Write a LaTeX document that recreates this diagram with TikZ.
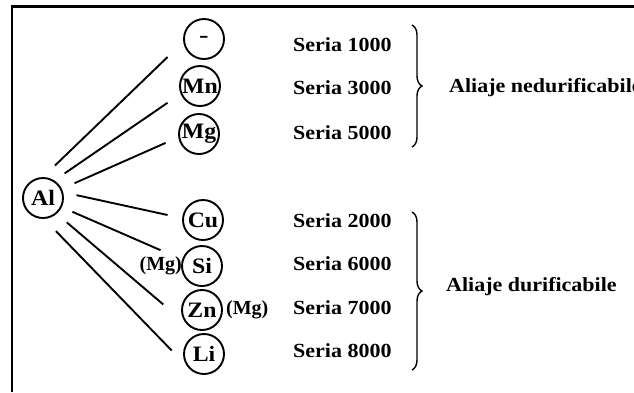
\documentclass[tikz,border=0pt]{standalone}
\usepackage{fontspec}
\setmainfont{Liberation Serif}
\usepackage{graphicx}
\usetikzlibrary{decorations.pathreplacing}
\newcommand\sx[1]{\scalebox{1.08}[1]{#1}}
\newcommand\sw[1]{\scalebox{1.1}[1]{#1}}
\begin{document}
\begin{tikzpicture}[x=1pt,y=-1pt,
  el/.style={circle, draw, line width=1.9pt, minimum size=40pt, inner sep=0pt, font=\fontsize{22}{24}\selectfont\bfseries},
  lbl/.style={inner sep=0pt, font=\fontsize{20}{22}\selectfont\bfseries},
  ser/.style={lbl, anchor=west},
  fan/.style={line width=1.9pt},
  br/.style={decorate, decoration={brace, amplitude=10pt}, line width=1.4pt}]
\useasboundingbox (0,0) rectangle (634,392);
\draw[line width=2.4pt] (12,392) -- (12,6.5) -- (634,6.5);

\node[el] (Al) at (43,198) {\sx{Al}};
\node[el] (dash) at (204,39) {\scalebox{1.3}[1]{-}};
\node[el] (Mn) at (200,86) {\sx{Mn}};
\node[el] (Mg) at (199,134) {\sx{Mg}};
\node[el] (Cu) at (203,220) {\sx{Cu}};
\node[el] (Si) at (202,266) {\sx{Si}};
\node[el] (Zn) at (202,310) {\sx{Zn}};
\node[el] (Li) at (204,354) {\sx{Li}};

\node[lbl, anchor=east] (mg1) at ([xshift=1pt]Si.west) {(Mg)};
\node[lbl, anchor=west] (mg2) at ([xshift=3pt]Zn.east) {(Mg)};

\draw[fan, shorten <=16.6pt, shorten >=21.8pt] (Al.90) -- (dash.188);
\draw[fan, shorten <=12.4pt, shorten >=15.8pt] (Al.57) -- (Mn.202);
\draw[fan, shorten <=13.9pt, shorten >=14pt] (Al.26) -- (Mg.189);
\draw[fan, shorten <=13.7pt, shorten >=14.9pt] (Al.16) -- (Cu.175);
\draw[fan, shorten <=11.6pt, shorten >=23.5pt] (Al.-26) -- (Si.162);
\draw[fan, shorten <=13.2pt, shorten >=31.4pt] (Al.-49) -- (Zn.225);
\draw[fan, shorten <=17pt, shorten >=28pt] (Al.-87) -- (Li.232);

\node[ser] (s1) at (293,45) {\sw{Seria 1000}};
\node[ser] (s3) at (293,88) {\sw{Seria 3000}};
\node[ser] (s5) at (293,133) {\sw{Seria 5000}};
\node[ser] (s2) at (293,221) {\sw{Seria 2000}};
\node[ser] (s6) at (293,264) {\sw{Seria 6000}};
\node[ser] (s7) at (293,308) {\sw{Seria 7000}};
\node[ser] (s8) at (293,351) {\sw{Seria 8000}};

\draw[br] (412,25) -- (412,147);
\draw[br] (412,212) -- (412,370);

\node[ser] (a1) at (449,88) {\sw{Aliaje nedurificabile}};
\node[ser] (a2) at (446,287) {\sw{Aliaje durificabile}};
\end{tikzpicture}
\end{document}
